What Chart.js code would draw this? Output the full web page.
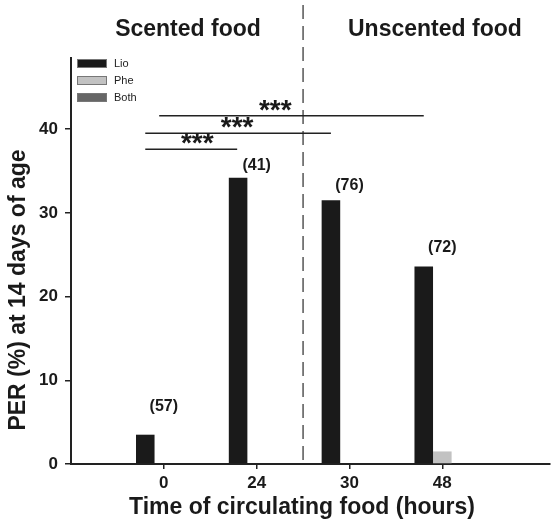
<!DOCTYPE html>
<html>
<head>
<meta charset="utf-8">
<script src="https://cdn.jsdelivr.net/npm/chart.js@4"></script>
<style>
    body { margin: 0; background: white; }
    canvas { display: block; }
</style>
</head>
<body>
<canvas id="chart" width="558" height="527"></canvas>
<script>
// categories (hours of circulating food)
const timeLabels = ['0', '24', '30', '48'];
// PER values (%) per group
const lioValues = [3.5, 34.2, 31.5, 23.6];
const pheValues = [0, 0, 0, 1.5];
const bothValues = [0, 0, 0, 0];
// sample sizes shown above the bars
const nLabels = ['(57)', '(41)', '(76)', '(72)'];
const nLabelY = [6.9, 35.6, 33.3, 25.9];
// significance bars (x in category index units, y in %)
const sigFrom = [-0.05, -0.2, -0.2];
const sigTo = [2.8, 1.8, 0.79];
const sigY = [41.6, 39.5, 37.6];
const sigStarX = [1.2, 0.79, 0.36];
const sigText = ['***', '***', '***'];
// phase split between scented / unscented food
const dividerAt = 1.5;
const phaseNames = ['Scented food', 'Unscented food'];
const phaseCenters = [0.26, 2.92];

const FONT = 'Arial, "Liberation Sans", sans-serif';
const colors = { Lio: '#1a1a1a', Phe: '#c2c2c2', Both: '#666666' };

function toPoints(arr) {
    return arr.map((v, i) => ({ x: i, y: v }));
}

const extras = {
    id: 'extras',
    afterDraw: (chart) => {
        const ctx = chart.ctx;
        const xs = chart.scales.x;
        const ys = chart.scales.y;
        const area = chart.chartArea;
        ctx.save();

        // dashed divider
        const dx = xs.getPixelForValue(dividerAt);
        ctx.strokeStyle = '#555';
        ctx.lineWidth = 1.5;
        ctx.setLineDash([14, 7]);
        ctx.beginPath();
        ctx.moveTo(dx, 5);
        ctx.lineTo(dx, area.bottom);
        ctx.stroke();
        ctx.setLineDash([]);

        // phase headers
        ctx.fillStyle = '#1a1a1a';
        ctx.font = 'bold 23px ' + FONT;
        ctx.textAlign = 'center';
        ctx.textBaseline = 'middle';
        phaseNames.forEach((t, i) => {
            ctx.fillText(t, xs.getPixelForValue(phaseCenters[i]), 30);
        });

        // significance lines
        ctx.strokeStyle = '#222';
        ctx.lineWidth = 1.5;
        sigY.forEach((y, i) => {
            const py = ys.getPixelForValue(y);
            ctx.beginPath();
            ctx.moveTo(xs.getPixelForValue(sigFrom[i]), py);
            ctx.lineTo(xs.getPixelForValue(sigTo[i]), py);
            ctx.stroke();
            ctx.font = 'bold 28px ' + FONT;
            ctx.textBaseline = 'alphabetic';
            ctx.fillText(sigText[i], xs.getPixelForValue(sigStarX[i]), py + 3);
        });

        // n labels
        ctx.font = 'bold 16px ' + FONT;
        ctx.textBaseline = 'middle';
        nLabels.forEach((t, i) => {
            ctx.fillText(t, xs.getPixelForValue(i), ys.getPixelForValue(nLabelY[i]));
        });

        // legend
        const names = ['Lio', 'Phe', 'Both'];
        ctx.font = '11px ' + FONT;
        ctx.textAlign = 'left';
        names.forEach((n, i) => {
            const top = 59 + i * 17;
            ctx.fillStyle = colors[n];
            ctx.fillRect(77, top, 30, 9);
            ctx.strokeStyle = '#777';
            ctx.lineWidth = 1;
            ctx.strokeRect(77.5, top + 0.5, 29, 8);
            ctx.fillStyle = '#222';
            ctx.fillText(n, 114, top + 5);
        });

        // axis titles
        ctx.fillStyle = '#1a1a1a';
        ctx.font = 'bold 23px ' + FONT;
        ctx.textAlign = 'center';
        ctx.fillText('Time of circulating food (hours)', 302, 508);
        ctx.translate(19, 290);
        ctx.rotate(-Math.PI / 2);
        ctx.fillText('PER (%) at 14 days of age', 0, 0);
        ctx.restore();
    }
};

new Chart(document.getElementById('chart'), {
    type: 'bar',
    plugins: [extras],
    data: {
        datasets: [{
            label: 'Lio',
            data: toPoints(lioValues),
            backgroundColor: colors.Lio,
            borderWidth: 0
        }, {
            label: 'Phe',
            data: toPoints(pheValues),
            backgroundColor: colors.Phe,
            borderWidth: 0
        }, {
            label: 'Both',
            data: toPoints(bothValues),
            backgroundColor: colors.Both,
            borderWidth: 0
        }]
    },
    options: {
        responsive: false,
        animation: false,
        categoryPercentage: 0.6,
        barPercentage: 1.0,
        layout: {
            padding: { top: 58, right: 8, left: 0, bottom: 0 }
        },
        scales: {
            x: {
                type: 'linear',
                min: -1,
                max: 4.16,
                offset: false,
                afterBuildTicks: (scale) => {
                    scale.ticks = timeLabels.map((t, i) => ({ value: i }));
                },
                afterFit: (scale) => { scale.height = 63; },
                border: { display: true, color: '#222', width: 2 },
                grid: { offset: false, drawOnChartArea: false, drawTicks: true, tickLength: 5, color: '#222', lineWidth: 1.5 },
                ticks: {
                    color: '#1a1a1a',
                    padding: 4,
                    maxRotation: 0,
                    font: { family: FONT, size: 17, weight: 'bold' },
                    callback: function (value) {
                        return timeLabels[value] !== undefined ? timeLabels[value] : '';
                    }
                }
            },
            y: {
                min: 0,
                max: 48.5,
                afterBuildTicks: (scale) => {
                    scale.ticks = scale.ticks.filter(t => t.value <= 40 && t.value % 10 === 0);
                },
                afterFit: (scale) => { scale.width = 71; },
                border: { display: true, color: '#222', width: 2 },
                grid: { drawOnChartArea: false, drawTicks: true, tickLength: 6, color: '#222', lineWidth: 1.5 },
                ticks: {
                    stepSize: 10,
                    color: '#1a1a1a',
                    padding: 7,
                    font: { family: FONT, size: 17, weight: 'bold' }
                }
            }
        },
        plugins: {
            legend: { display: false },
            tooltip: { enabled: false }
        }
    }
});
</script>
</body>
</html>
